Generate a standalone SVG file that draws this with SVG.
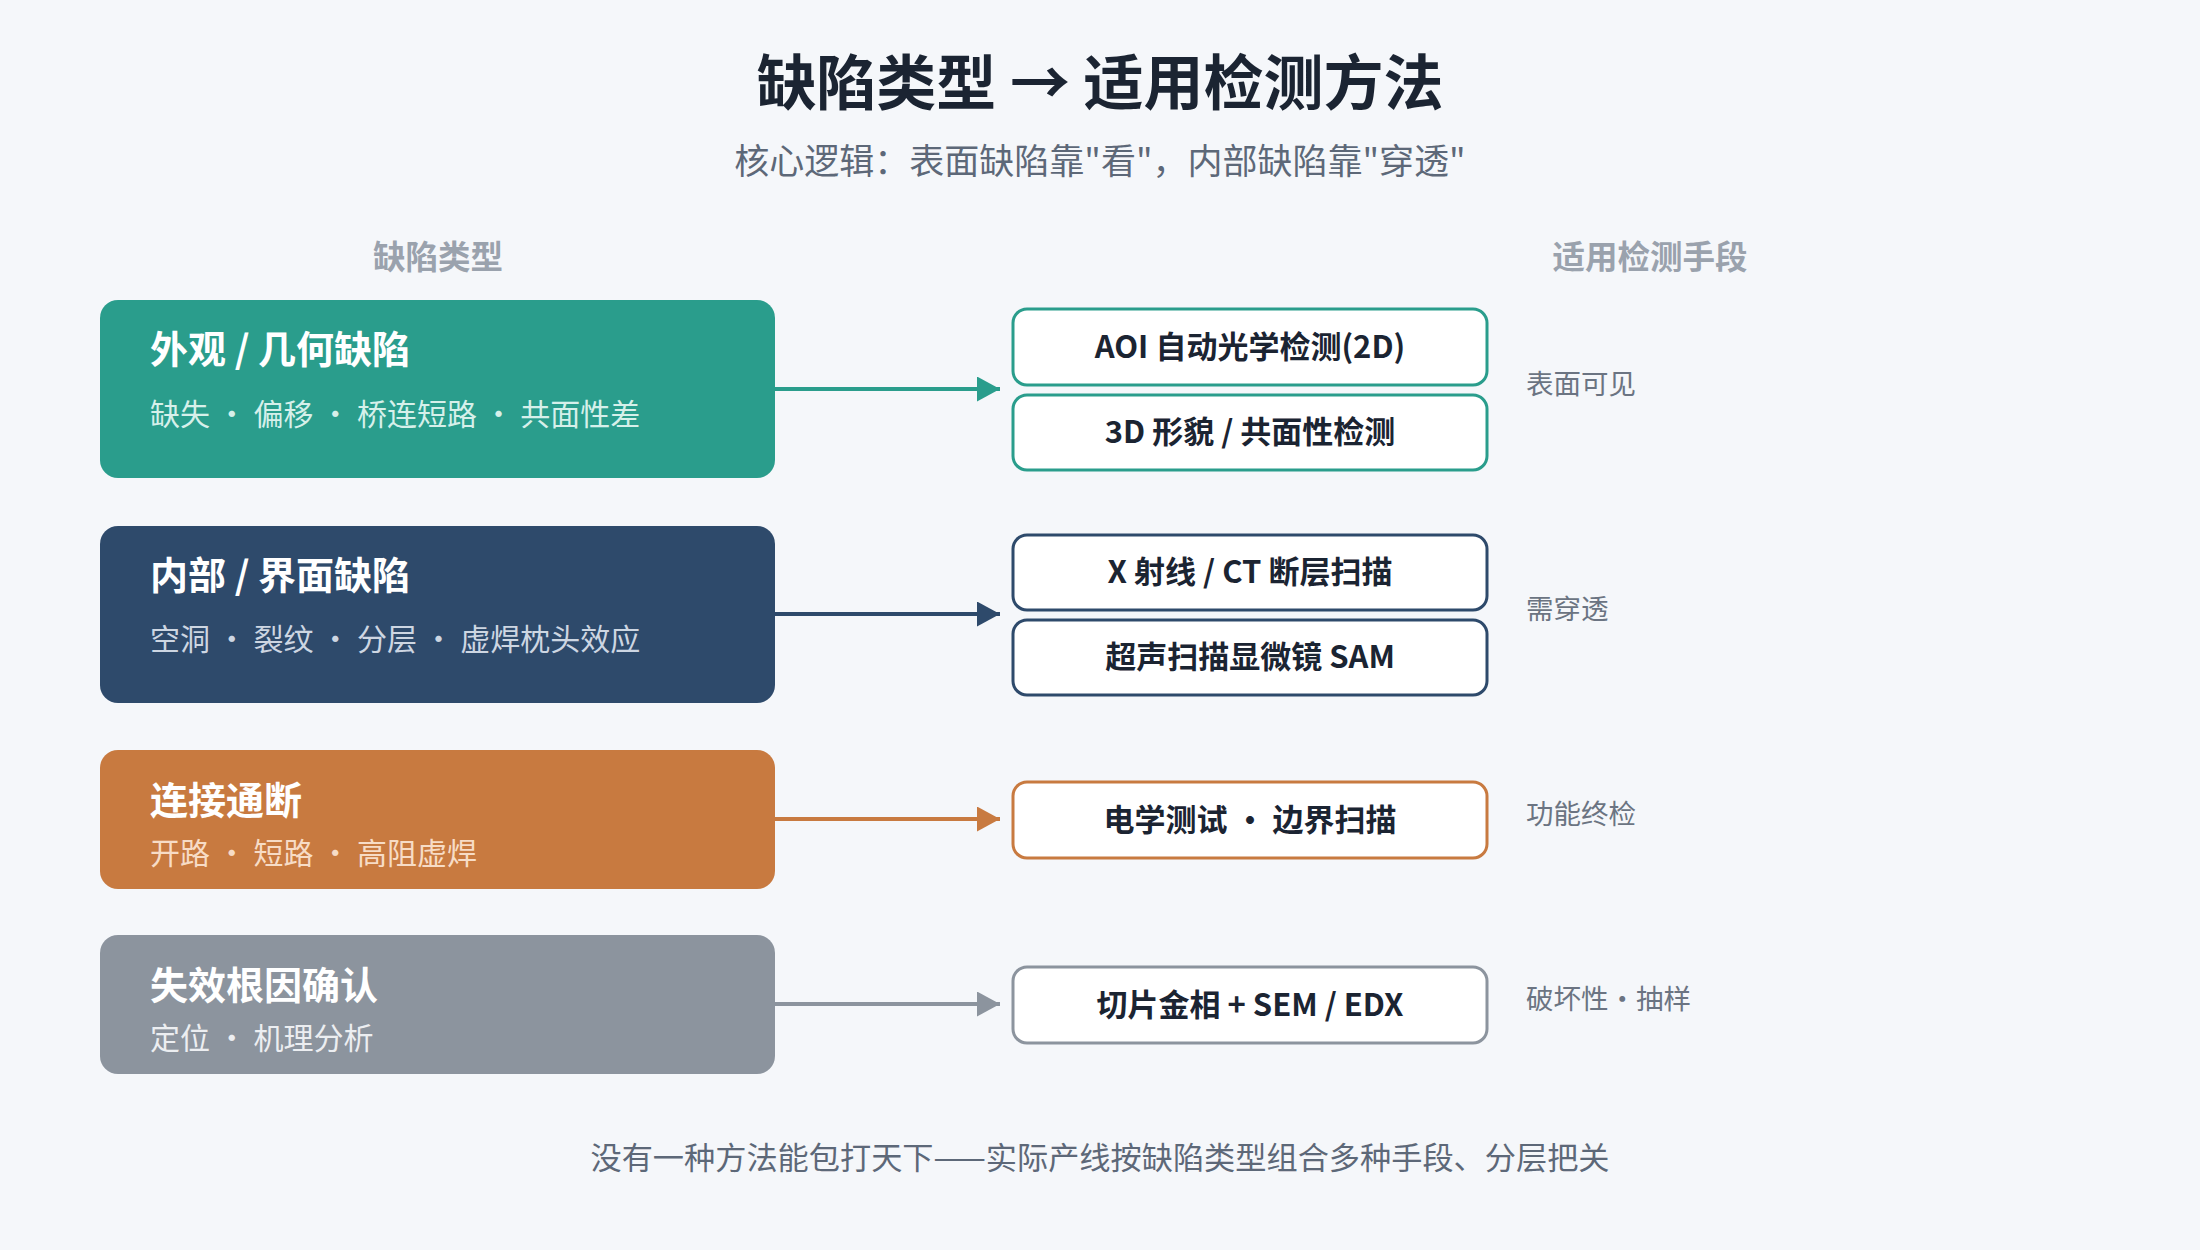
<svg xmlns="http://www.w3.org/2000/svg" width="2200" height="1250" viewBox="0 0 2200 1250">
<defs>
<style>
text{font-family:"Noto Sans CJK SC","Noto Sans",sans-serif}
.title{font-size:60px;font-weight:700;fill:#1b2432;text-anchor:middle}
.subtitle{font-size:35px;fill:#5d6878;text-anchor:middle}
.colh{font-size:32.5px;font-weight:700;fill:#9aa2ad;text-anchor:middle}
.nt{font-size:38px;font-weight:700;fill:#ffffff}
.ns{font-size:30px}
.mt{font-size:31px;font-weight:700;fill:#1b2432;text-anchor:middle}
.side{font-size:27.5px;fill:#6b7482}
.foot{font-size:31.2px;fill:#5d6878;text-anchor:middle}
.mbox{fill:#ffffff;stroke-width:3}
.conn{stroke-width:4;fill:none}
</style>
<marker id="ah-teal" markerWidth="23" markerHeight="25" refX="23" refY="12.5" orient="auto" markerUnits="userSpaceOnUse"><path d="M0,0 L23,12.5 L0,25 Z" fill="#2a9d8c"/></marker>
<marker id="ah-navy" markerWidth="23" markerHeight="25" refX="23" refY="12.5" orient="auto" markerUnits="userSpaceOnUse"><path d="M0,0 L23,12.5 L0,25 Z" fill="#2e4a6b"/></marker>
<marker id="ah-orange" markerWidth="23" markerHeight="25" refX="23" refY="12.5" orient="auto" markerUnits="userSpaceOnUse"><path d="M0,0 L23,12.5 L0,25 Z" fill="#c87a40"/></marker>
<marker id="ah-gray" markerWidth="23" markerHeight="25" refX="23" refY="12.5" orient="auto" markerUnits="userSpaceOnUse"><path d="M0,0 L23,12.5 L0,25 Z" fill="#8c949e"/></marker>
</defs>
<rect x="0" y="0" width="2200" height="1250" fill="#f5f7fa"/>

<g id="header">
<text class="title" x="1100" y="105">缺陷类型 → 适用检测方法</text>
<text class="subtitle" x="1100" y="174">核心逻辑：表面缺陷靠"看"，内部缺陷靠"穿透"</text>
<text class="colh" x="438" y="269">缺陷类型</text>
<text class="colh" x="1650" y="269">适用检测手段</text>
</g>

<g id="connectors">
<line class="conn" x1="775" y1="389" x2="1000" y2="389" stroke="#2a9d8c" marker-end="url(#ah-teal)"/>
<line class="conn" x1="775" y1="614" x2="1000" y2="614" stroke="#2e4a6b" marker-end="url(#ah-navy)"/>
<line class="conn" x1="775" y1="819" x2="1000" y2="819" stroke="#c87a40" marker-end="url(#ah-orange)"/>
<line class="conn" x1="775" y1="1004" x2="1000" y2="1004" stroke="#8c949e" marker-end="url(#ah-gray)"/>
</g>

<g id="node-visual">
<rect x="100" y="300" width="675" height="178" rx="18" fill="#2a9d8c"/>
<text class="nt" x="150" y="363">外观 / 几何缺陷</text>
<text class="ns" x="150" y="425" fill="#d6f0ea">缺失 · 偏移 · 桥连短路 · 共面性差</text>
</g>
<g id="node-internal">
<rect x="100" y="526" width="675" height="177" rx="18" fill="#2e4a6b"/>
<text class="nt" x="150" y="589">内部 / 界面缺陷</text>
<text class="ns" x="150" y="650" fill="#cdd6e2">空洞 · 裂纹 · 分层 · 虚焊枕头效应</text>
</g>
<g id="node-connect">
<rect x="100" y="750" width="675" height="139" rx="18" fill="#c87a40"/>
<text class="nt" x="150" y="814">连接通断</text>
<text class="ns" x="150" y="864" fill="#f7dcc6">开路 · 短路 · 高阻虚焊</text>
</g>
<g id="node-rootcause">
<rect x="100" y="935" width="675" height="139" rx="18" fill="#8c949e"/>
<text class="nt" x="150" y="999">失效根因确认</text>
<text class="ns" x="150" y="1049" fill="#eceef1">定位 · 机理分析</text>
</g>

<g id="method-aoi">
<rect class="mbox" x="1013" y="309" width="474" height="76" rx="14" stroke="#2a9d8c"/>
<text class="mt" x="1250" y="358">AOI 自动光学检测(2D)</text>
</g>
<g id="method-3d">
<rect class="mbox" x="1013" y="395" width="474" height="75" rx="14" stroke="#2a9d8c"/>
<text class="mt" x="1250" y="443">3D 形貌 / 共面性检测</text>
</g>
<g id="method-xray">
<rect class="mbox" x="1013" y="535" width="474" height="75" rx="14" stroke="#2e4a6b"/>
<text class="mt" x="1250" y="583">X 射线 / CT 断层扫描</text>
</g>
<g id="method-sam">
<rect class="mbox" x="1013" y="620" width="474" height="75" rx="14" stroke="#2e4a6b"/>
<text class="mt" x="1250" y="668">超声扫描显微镜 SAM</text>
</g>
<g id="method-electrical">
<rect class="mbox" x="1013" y="782" width="474" height="76" rx="14" stroke="#c87a40"/>
<text class="mt" x="1250" y="831">电学测试 · 边界扫描</text>
</g>
<g id="method-section">
<rect class="mbox" x="1013" y="967" width="474" height="76" rx="14" stroke="#8c949e"/>
<text class="mt" x="1250" y="1016">切片金相 + SEM / EDX</text>
</g>

<g id="side-labels">
<text class="side" x="1526" y="394">表面可见</text>
<text class="side" x="1526" y="619">需穿透</text>
<text class="side" x="1526" y="824">功能终检</text>
<text class="side" x="1526" y="1009">破坏性・抽样</text>
</g>

<g id="footer">
<text class="foot" x="1100" y="1169">没有一种方法能包打天下——实际产线按缺陷类型组合多种手段、分层把关</text>
</g>
</svg>
